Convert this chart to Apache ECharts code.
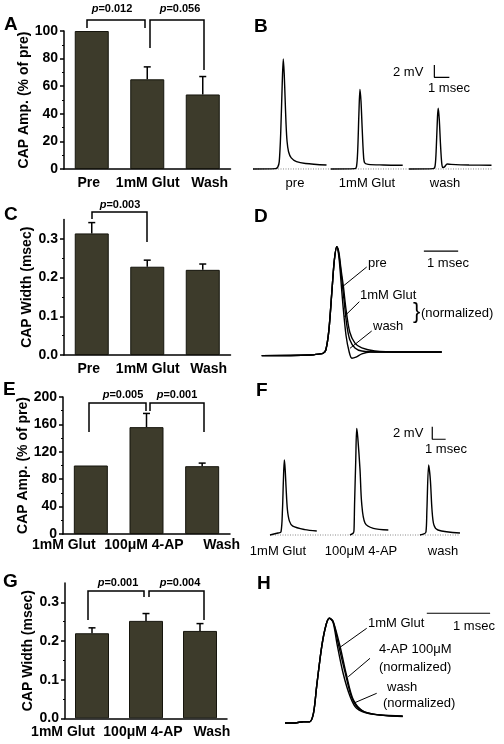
<!DOCTYPE html>
<html><head><meta charset="utf-8">
<script src="https://cdn.jsdelivr.net/npm/echarts@6/dist/echarts.min.js"></script>
<style>html,body{margin:0;padding:0;background:#fff}#c{width:504px;height:744px}</style>
</head><body><div id="c"></div>
<script>
// ---------- DATA ----------
const catsGlut = ['Pre', '1mM Glut', 'Wash'];
const cats4AP = ['1mM Glut', '100\u03bcM 4-AP', 'Wash'];

const ampA = [100, 65, 54];
const ampAErr = [0, 9, 13];
const widthC = [0.314, 0.228, 0.220];
const widthCErr = [0.028, 0.017, 0.015];
const ampE = [100, 156, 99];
const ampEErr = [0, 20, 4.5];
const widthG = [0.220, 0.252, 0.226];
const widthGErr = [0.014, 0.019, 0.019];

const ticksAmpA = [0, 20, 40, 60, 80, 100];
const ticksAmpE = [0, 40, 80, 120, 160, 200];
const ticksWidth = [0, 0.1, 0.2, 0.3];

// traces B (t in msec, v in mV), each from its own start
const tracePreB = [[0,0],[1.5,0.05],[1.65,0.3],[1.75,1.2],[1.85,6],[1.95,14],[2.02,17.9],[2.08,15.5],[2.14,11.5],[2.2,7.5],[2.27,4.5],[2.37,2.8],[2.55,1.8],[2.9,1.2],[3.5,0.9],[4.9,0.65]];
const traceGlutB = [[0,0],[1.6,0.05],[1.72,0.4],[1.8,3],[1.88,9],[1.95,12.95],[2.02,11],[2.1,6.5],[2.18,2.5],[2.26,1.0],[2.5,0.75],[3.5,0.65],[4.8,0.6]];
const traceWashB = [[0,0],[1.62,0.05],[1.74,0.5],[1.82,3.5],[1.9,8.5],[1.95,9.9],[2.02,8],[2.1,4],[2.18,1.0],[2.25,0.25],[2.35,0.3],[2.55,0.8],[2.8,0.75],[4.0,0.65],[5.5,0.6]];
const labelsB = ['pre', '1mM Glut', 'wash'];

// traces D (normalized)
const tracePreD = [[0,-0.006],[1.41,0],[1.7,0.01],[1.79,0.016],[1.87,0.046],[1.96,0.23],[2.05,0.6],[2.12,0.88],[2.19,1.0],[2.25,0.95],[2.31,0.8],[2.38,0.64],[2.46,0.42],[2.57,0.21],[2.72,0.11],[2.92,0.065],[3.3,0.037],[4.03,0.028],[5.25,0.028]];
const traceGlutD = [[0,-0.006],[1.41,0],[1.7,0.01],[1.79,0.016],[1.87,0.046],[1.96,0.23],[2.05,0.6],[2.12,0.88],[2.19,1.0],[2.25,0.93],[2.31,0.77],[2.4,0.51],[2.48,0.28],[2.57,0.14],[2.72,0.065],[2.92,0.037],[3.45,0.028],[5.25,0.028]];
const traceWashD = [[0,-0.006],[1.41,0],[1.7,0.01],[1.79,0.016],[1.87,0.046],[1.96,0.23],[2.05,0.6],[2.12,0.88],[2.19,1.0],[2.25,0.91],[2.31,0.69],[2.37,0.46],[2.46,0.18],[2.55,0.03],[2.63,-0.03],[2.75,-0.02],[2.92,0.01],[3.16,0.028],[5.25,0.028]];

// traces F (mV)
const traceGlutF = [[0,0],[0.6,0.32],[0.82,0.48],[0.93,4],[1.0,8.7],[1.07,11.9],[1.13,10.5],[1.2,7.5],[1.3,4],[1.45,2.2],[1.7,1.4],[2.6,0.85],[3.49,0.63]];
const trace4APF = [[0,0],[0.25,0.32],[0.3,0.8],[0.34,4.8],[0.43,11.9],[0.5,16.9],[0.58,15.5],[0.75,10.3],[0.87,5.1],[1.12,1.9],[1.74,1.06],[2.86,0.8]];
const traceWashF = [[0,0],[0.3,0.16],[0.45,0.48],[0.52,4],[0.65,11.1],[0.78,8.7],[0.9,4],[1.04,1.6],[1.34,0.8],[2.99,0.32]];
const labelsF = ['1mM Glut', '100\u03bcM 4-AP', 'wash'];

// traces H (normalized)
const traceGlutH = [[0,0],[0.16,0],[0.29,0.012],[0.39,0.012],[0.45,0.093],[0.5,0.35],[0.58,0.73],[0.65,0.94],[0.7,1.0],[0.76,0.96],[0.82,0.76],[0.92,0.47],[1.03,0.25],[1.13,0.14],[1.34,0.086],[1.86,0.06]];
const trace4APH = [[0,0],[0.16,0],[0.29,0.012],[0.39,0.012],[0.45,0.093],[0.5,0.35],[0.58,0.73],[0.65,0.94],[0.7,1.0],[0.76,0.97],[0.87,0.73],[0.97,0.46],[1.08,0.22],[1.24,0.11],[1.5,0.076],[1.86,0.067]];
const traceWashH = [[0,0],[0.16,0],[0.29,0.012],[0.39,0.012],[0.45,0.093],[0.5,0.35],[0.58,0.73],[0.65,0.94],[0.7,1.0],[0.76,0.97],[0.84,0.76],[0.95,0.48],[1.05,0.25],[1.16,0.14],[1.37,0.086],[1.86,0.064]];

// ---------- STYLE / LAYOUT ----------
const FONT = 'Liberation Sans, Arial, sans-serif';
const BAR = '#3d3b2b';
const chart = echarts.init(document.getElementById('c'), null, {renderer: 'canvas'});

const barGrids = [
  {left: 64, top: 31, width: 166.5, height: 138},
  {left: 64, top: 219.5, width: 166.5, height: 135.5},
  {left: 63, top: 397, width: 167, height: 137},
  {left: 65, top: 583, width: 162, height: 135.3}
];
const traceGrids = [
  {left: 253, top: 55.2, width: 240, height: 116.85},
  {left: 261.7, top: 241.3, width: 240, height: 124.5},
  {left: 270, top: 421.6, width: 190, height: 116.55},
  {left: 285, top: 607.8, width: 208.9, height: 125.6}
];

function catAxis(gi, cats, margin, shifts) {
  const rich = {};
  shifts.forEach((s, i) => {
    rich['c' + i] = {fontFamily: FONT, fontWeight: 'bold', fontSize: 14, color: '#000',
      padding: s < 0 ? [0, -2 * s, 0, 0] : [0, 0, 0, 2 * s]};
  });
  return {type: 'category', gridIndex: gi, data: cats,
    axisLine: {lineStyle: {color: '#000', width: 1.5}},
    axisTick: {show: false},
    axisLabel: {margin: margin, interval: 0,
      formatter: (v, i) => '{c' + i + '|' + v + '}', rich: rich}};
}
function valAxis(gi, max, interval, ticks, name, nameGap, dec) {
  return {type: 'value', gridIndex: gi, min: 0, max: max, interval: interval,
    name: name, nameLocation: 'middle', nameGap: nameGap,
    nameTextStyle: {fontFamily: FONT, fontWeight: 'bold', fontSize: 14, color: '#000'},
    axisLine: {show: true, lineStyle: {color: '#000', width: 1.5}},
    axisTick: {show: true, inside: false, length: 4, lineStyle: {color: '#000', width: 1.5}, customValues: ticks},
    minorTick: {show: true, splitNumber: 2, length: 2, lineStyle: {color: '#000', width: 1}},
    splitLine: {show: false}, minorSplitLine: {show: false},
    axisLabel: {margin: 6, fontFamily: FONT, fontWeight: 'bold', fontSize: 14, color: '#000',
      customValues: ticks, formatter: v => v.toFixed(dec)}};
}
function hidAxis(gi, min, max) {
  return {type: 'value', gridIndex: gi, min: min, max: max, show: false, splitLine: {show: false}};
}

function errRender(params, api) {
  const e = api.value(2);
  if (!e) return null;
  const x = api.value(0), v = api.value(1);
  const p0 = api.coord([x, v]);
  const p1 = api.coord([x, v + e]);
  return {type: 'group', children: [
    {type: 'line', shape: {x1: p0[0], y1: p0[1], x2: p1[0], y2: p1[1]}, style: {stroke: '#000', lineWidth: 1.5}},
    {type: 'line', shape: {x1: p1[0] - 3.5, y1: p1[1], x2: p1[0] + 3.5, y2: p1[1]}, style: {stroke: '#000', lineWidth: 1.5}}
  ]};
}
function barSeries(ax, vals) {
  return {type: 'bar', xAxisIndex: ax, yAxisIndex: ax, data: vals, barWidth: 34,
    itemStyle: {color: BAR, borderColor: '#15140c', borderWidth: 1}, silent: true};
}
function errSeries(ax, vals, errs) {
  return {type: 'custom', xAxisIndex: ax, yAxisIndex: ax, z: 5,
    data: vals.map((v, i) => [i, v, errs[i]]), renderItem: errRender, silent: true};
}
function traceSeries(ax, pts, offset) {
  return {type: 'line', xAxisIndex: ax, yAxisIndex: ax, showSymbol: false, smooth: 0.3,
    clip: false, silent: true, z: 3,
    lineStyle: {color: '#000', width: 1.4},
    data: pts.map(p => [p[0] + offset, p[1]])};
}
function baseLine(ax, x1) {
  return {type: 'line', xAxisIndex: ax, yAxisIndex: ax, showSymbol: false, silent: true, z: 2,
    lineStyle: {color: '#888', width: 1, type: [1, 1.5]}, data: [[0, 0], [x1, 0]]};
}
function scaleBar(ax, x0, y0, dy, dx) {
  const d = dy ? [[x0, y0 + dy], [x0, y0], [x0 + dx, y0]] : [[x0, y0], [x0 + dx, y0]];
  return {type: 'line', xAxisIndex: ax, yAxisIndex: ax, showSymbol: false, silent: true, clip: false,
    lineStyle: {color: '#000', width: 1.2}, data: d};
}

// graphic helpers
function T(text, x, y, opt) {
  opt = opt || {};
  return {type: 'text', x: x, y: y, silent: true, z: 10, style: Object.assign({
    text: text, fontFamily: FONT, fontSize: 13, fill: '#000',
    align: 'center', verticalAlign: 'middle'}, opt)};
}
function P(text, x, y) {
  return {type: 'text', x: x, y: y, silent: true, z: 10, style: {
    text: '{i|p}{n|' + text + '}', align: 'center', verticalAlign: 'middle',
    rich: {i: {fontFamily: FONT, fontSize: 11, fontWeight: 'bold', fontStyle: 'italic', fill: '#000'},
           n: {fontFamily: FONT, fontSize: 11, fontWeight: 'bold', fill: '#000'}}}};
}
function L(points, w) {
  return {type: 'polyline', silent: true, z: 10, shape: {points: points},
    style: {stroke: '#000', lineWidth: w || 1.5, fill: null}};
}
function panel(letter, x, y) {
  return T(letter, x, y, {fontSize: 19, fontWeight: 'bold', align: 'left'});
}

const graphics = [
  panel('A', 4, 25), panel('B', 254, 27), panel('C', 4, 215), panel('D', 254, 217),
  panel('E', 3, 390), panel('F', 256, 391), panel('G', 3, 582), panel('H', 257, 584),
  // A brackets
  L([[87, 28], [87, 20], [145, 20], [145, 28]]), P('=0.012', 112, 9),
  L([[150, 48], [150, 20], [204, 20], [204, 70]]), P('=0.056', 180, 9),
  // C bracket
  L([[92, 219], [92, 212], [147, 212], [147, 242]]), P('=0.003', 120, 205),
  // E brackets
  L([[89, 432], [89, 403], [146, 403], [146, 411]]), P('=0.005', 123, 395),
  L([[150, 411], [150, 403], [204, 403], [204, 432]]), P('=0.001', 177, 395),
  // G brackets
  L([[88, 620], [88, 591], [144, 591], [144, 597]]), P('=0.001', 118, 583),
  L([[149, 597], [149, 591], [204, 591], [204, 620]]), P('=0.004', 180, 583),
  // B labels
  T(labelsB[0], 295, 183), T(labelsB[1], 367, 183), T(labelsB[2], 445, 183),
  T('2 mV', 393, 72, {align: 'left'}), T('1 msec', 428, 88, {align: 'left'}),
  // D labels
  T('pre', 368, 263, {align: 'left'}), L([[366.7, 267], [343.3, 286]], 1),
  T('1mM Glut', 360, 295, {align: 'left'}), L([[359.3, 301.7], [344, 316.7]], 1),
  T('wash', 373, 326, {align: 'left'}), L([[371.7, 331], [350, 348.3]], 1),
  T('}', 413, 312, {align: 'left', fontSize: 22}),
  T('(normalized)', 421, 313, {align: 'left'}),
  T('1 msec', 427, 263, {align: 'left'}),
  // F labels
  T(labelsF[0], 278, 551), T(labelsF[1], 361, 551), T(labelsF[2], 443, 551),
  T('2 mV', 393, 433, {align: 'left'}), T('1 msec', 425, 449, {align: 'left'}),
  // H labels
  T('1mM Glut', 368, 623, {align: 'left'}), L([[366.7, 628.3], [340, 647.3]], 1),
  T('4-AP 100\u03bcM', 379, 649, {align: 'left'}), T('(normalized)', 379, 667, {align: 'left'}),
  L([[370, 658.3], [348.3, 676.7]], 1),
  T('wash', 387, 687, {align: 'left'}), T('(normalized)', 383, 703, {align: 'left'}),
  L([[376.7, 693.3], [353.3, 703.3]], 1),
  T('1 msec', 453, 626, {align: 'left'})
];

const option = {
  animation: false,
  backgroundColor: '#fff',
  grid: barGrids.concat(traceGrids).map(g => Object.assign({containLabel: false}, g)),
  xAxis: [
    catAxis(0, catsGlut, 7, [-3, 0.5, 7]),
    catAxis(1, catsGlut, 7, [-3, 0.5, 6]),
    catAxis(2, cats4AP, 4, [-27, -2.5, 19.5]),
    catAxis(3, cats4AP, 7, [-29, -3, 12]),
    hidAxis(4, 0, 16), hidAxis(5, 0, 7), hidAxis(6, 0, 14.18), hidAxis(7, 0, 3.3)
  ],
  yAxis: [
    valAxis(0, 100, 20, ticksAmpA, 'CAP Amp. (% of pre)', 25, 0),
    valAxis(1, 0.35, 0.1, ticksWidth, 'CAP Width (msec)', 26, 1),
    valAxis(2, 200, 40, ticksAmpE, 'CAP Amp. (% of pre)', 28, 0),
    valAxis(3, 0.35, 0.1, ticksWidth, 'CAP Width (msec)', 25, 1),
    hidAxis(4, -0.5, 18.5), hidAxis(5, -0.1, 1.05), hidAxis(6, -0.5, 18), hidAxis(7, -0.1, 1.1)
  ],
  series: [
    barSeries(0, ampA), errSeries(0, ampA, ampAErr),
    barSeries(1, widthC), errSeries(1, widthC, widthCErr),
    barSeries(2, ampE), errSeries(2, ampE, ampEErr),
    barSeries(3, widthG), errSeries(3, widthG, widthGErr),
    // B
    baseLine(4, 15.93),
    traceSeries(4, tracePreB, 0), traceSeries(4, traceGlutB, 5.18), traceSeries(4, traceWashB, 10.4),
    scaleBar(4, 12.09, 14.9, 2, 1),
    // D
    traceSeries(5, tracePreD, 0), traceSeries(5, traceGlutD, 0), traceSeries(5, traceWashD, 0),
    scaleBar(5, 4.73, 0.96, 0, 1),
    // F
    baseLine(6, 14.18),
    traceSeries(6, traceGlutF, 0), traceSeries(6, trace4APF, 5.97), traceSeries(6, traceWashF, 11.19),
    scaleBar(6, 12.11, 15.2, 2, 1),
    // H
    traceSeries(7, traceGlutH, 0), traceSeries(7, trace4APH, 0), traceSeries(7, traceWashH, 0),
    scaleBar(7, 2.24, 1.048, 0, 1)
  ],
  graphic: graphics
};
chart.setOption(option);
</script>
</body></html>
